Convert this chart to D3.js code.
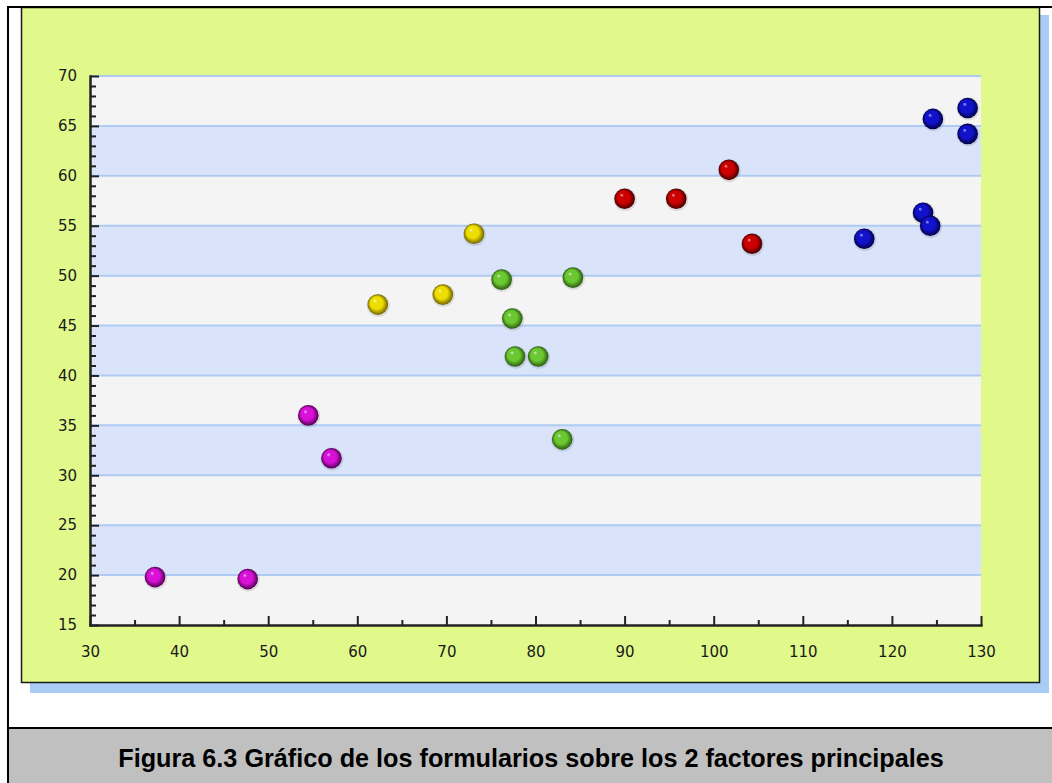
<!DOCTYPE html>
<html lang="es">
<head>
  <meta charset="UTF-8">
  <title>Figura 6.3</title>
  <script src="https://d3js.org/d3.v7.min.js"></script>
  <style>
    body {
      margin: 0;
      background: #ffffff;
      overflow: hidden;
    }
    svg {
      display: block;
    }
    .tick text {
      font-family: 'DejaVu Sans', Verdana, sans-serif;
      font-size: 15px;
      fill: #1a1a1a;
    }
    .axis path,
    .axis line {
      stroke: #222;
      stroke-width: 2;
    }
    .caption {
      font-family: 'Liberation Sans', Arial, sans-serif;
      font-weight: bold;
      font-size: 20px;
      fill: #000;
    }
  </style>
</head>
<body>
  <svg width="1052" height="783"></svg>
  <script>
    // values
    const xTicks = [30, 40, 50, 60, 70, 80, 90, 100, 110, 120, 130];
    const yTicks = [15, 20, 25, 30, 35, 40, 45, 50, 55, 60, 65, 70];

    const magentaX = [37.3, 47.7, 54.5, 57.1];
    const magentaY = [19.8, 19.6, 36.0, 31.7];
    const yellowX = [62.3, 69.6, 73.1];
    const yellowY = [47.1, 48.1, 54.2];
    const greenX = [76.2, 84.2, 77.4, 77.7, 80.3, 83.0];
    const greenY = [49.6, 49.8, 45.7, 41.9, 41.9, 33.6];
    const redX = [90.0, 95.8, 101.7, 104.3];
    const redY = [57.7, 57.7, 60.6, 53.2];
    const blueX = [116.9, 123.5, 124.3, 124.6, 128.5, 128.5];
    const blueY = [53.7, 56.3, 55.0, 65.7, 66.8, 64.2];

    const captionText = "Figura 6.3 Gráfico de los formularios sobre los 2 factores principales";

    const series = [
      { id: "magenta", xs: magentaX, ys: magentaY, hi: "#f4b8f4", mid: "#d810d8", dark: "#500050" },
      { id: "yellow", xs: yellowX, ys: yellowY, hi: "#fafac8", mid: "#eede00", dark: "#706200" },
      { id: "green", xs: greenX, ys: greenY, hi: "#dfe8d8", mid: "#6cc830", dark: "#2a5a10" },
      { id: "red", xs: redX, ys: redY, hi: "#f0a8a8", mid: "#cc0000", dark: "#420000" },
      { id: "blue", xs: blueX, ys: blueY, hi: "#b0b0f4", mid: "#1212cc", dark: "#000044" }
    ];

    const svg = d3.select("svg");

    // outer frame and caption box
    svg.append("rect")
      .attr("x", 8).attr("y", 7)
      .attr("width", 1050).attr("height", 790)
      .attr("fill", "#fff")
      .attr("stroke", "#000").attr("stroke-width", 2);

    svg.append("rect")
      .attr("x", 8).attr("y", 728)
      .attr("width", 1050).attr("height", 60)
      .attr("fill", "#c0c0c0")
      .attr("stroke", "#000").attr("stroke-width", 2);

    // chart panel with its shadow
    svg.append("rect")
      .attr("x", 30).attr("y", 15)
      .attr("width", 1019).attr("height", 678)
      .attr("fill", "#a9cbf4");

    svg.append("rect")
      .attr("x", 21.5).attr("y", 7.5)
      .attr("width", 1018).attr("height", 675)
      .attr("fill", "#e0f98a")
      .attr("stroke", "#1a1a1a").attr("stroke-width", 1.5);

    // redraw top frame line over the panel
    svg.append("line")
      .attr("x1", 8).attr("x2", 1052)
      .attr("y1", 7).attr("y2", 7)
      .attr("stroke", "#000").attr("stroke-width", 2);

    const plotL = 90, plotR = 981, plotT = 76, plotB = 625;
    const x = d3.scaleLinear().domain([30, 130]).range([plotL, plotR]);
    const y = d3.scaleLinear().domain([15, 70]).range([plotB, plotT]);

    const plot = svg.append("g");

    // alternating bands
    const bands = d3.pairs(yTicks);
    plot.selectAll(".band")
      .data(bands)
      .enter()
      .append("rect")
      .attr("class", "band")
      .attr("x", plotL)
      .attr("width", plotR - plotL)
      .attr("y", d => y(d[1]))
      .attr("height", d => y(d[0]) - y(d[1]))
      .attr("fill", (d, i) => i % 2 === 0 ? "#f4f4f4" : "#d9e4fb");

    // grid lines
    plot.selectAll(".grid")
      .data(yTicks.slice(1))
      .enter()
      .append("line")
      .attr("class", "grid")
      .attr("x1", plotL).attr("x2", plotR)
      .attr("y1", d => y(d)).attr("y2", d => y(d))
      .attr("stroke", "#afcbf4")
      .attr("stroke-width", 2);

    // axes: minor ticks, then major ticks with labels
    const xMinor = d3.range(35, 130, 10);
    const yMinor = d3.range(16, 70, 1).filter(v => v % 5 !== 0);

    svg.append("g")
      .attr("class", "axis")
      .attr("transform", `translate(0,${plotB})`)
      .call(d3.axisBottom(x).tickValues(xMinor).tickSize(-5).tickSizeOuter(0).tickFormat(""));

    svg.append("g")
      .attr("class", "axis")
      .attr("transform", `translate(${plotL},0)`)
      .call(d3.axisLeft(y).tickValues(yMinor).tickSize(-6).tickSizeOuter(0).tickFormat(""));

    svg.append("g")
      .attr("class", "axis")
      .attr("transform", `translate(0,${plotB})`)
      .call(d3.axisBottom(x).tickValues(xTicks).tickSize(-9).tickSizeOuter(0).tickPadding(21));

    svg.append("g")
      .attr("class", "axis")
      .attr("transform", `translate(${plotL},0)`)
      .call(d3.axisLeft(y).tickValues(yTicks).tickSize(-9).tickSizeOuter(0).tickPadding(13));

    svg.selectAll(".axis .domain").attr("stroke-linecap", "square");

    // sphere gradients
    const defs = svg.append("defs");
    series.forEach(s => {
      const grad = defs.append("radialGradient")
        .attr("id", "ball-" + s.id)
        .attr("cx", "50%").attr("cy", "50%").attr("r", "50%")
        .attr("fx", "34%").attr("fy", "30%");
      grad.append("stop").attr("offset", "0%").attr("stop-color", s.hi);
      grad.append("stop").attr("offset", "20%").attr("stop-color", s.mid);
      grad.append("stop").attr("offset", "60%").attr("stop-color", s.mid);
      grad.append("stop").attr("offset", "100%").attr("stop-color", s.dark);
    });

    const balls = svg.append("g");
    series.forEach(s => {
      const pts = s.xs.map((v, i) => [v, s.ys[i]]);
      const g = balls.append("g");
      g.selectAll(".halo")
        .data(pts)
        .enter()
        .append("circle")
        .attr("class", "halo")
        .attr("cx", d => x(d[0]) + 0.5)
        .attr("cy", d => y(d[1]) + 0.8)
        .attr("r", 11.5)
        .attr("fill", "#000")
        .attr("opacity", 0.1);
      g.selectAll(".ball")
        .data(pts)
        .enter()
        .append("circle")
        .attr("class", "ball")
        .attr("cx", d => x(d[0]))
        .attr("cy", d => y(d[1]))
        .attr("r", 10.3)
        .attr("fill", `url(#ball-${s.id})`);
    });

    // caption
    const cap = svg.append("text")
      .attr("class", "caption")
      .attr("x", 531)
      .attr("y", 767)
      .attr("text-anchor", "middle")
      .text(captionText);
    const w = cap.node().getComputedTextLength();
    cap.style("font-size", (20 * 826 / w).toFixed(2) + "px");
  </script>
</body>
</html>
